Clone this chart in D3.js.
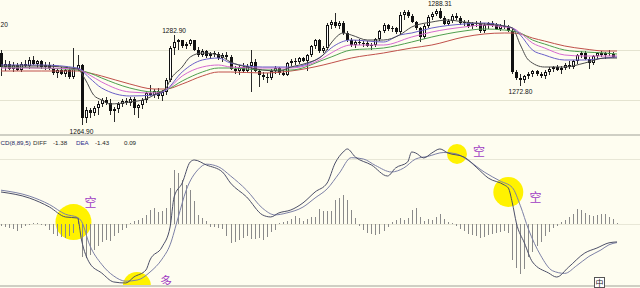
<!DOCTYPE html>
<html>
<head>
<meta charset="utf-8">
<script src="https://cdn.jsdelivr.net/npm/d3@7/dist/d3.min.js"></script>
<style>
  html, body { margin: 0; padding: 0; background: #fefdf0; overflow: hidden; }
  svg { display: block; }
</style>
</head>
<body>
<svg id="chart" width="640" height="288"></svg>
<script>
// one row per bar: [open, high, low, close]
const candles = [
  [1279.4, 1280.0, 1274.8, 1276.6], [1276.6, 1277.9, 1275.8, 1277.3], [1277.3, 1277.8, 1275.9, 1276.2],
  [1276.2, 1277.5, 1275.6, 1277.0], [1277.0, 1277.4, 1275.7, 1276.0], [1276.0, 1277.6, 1275.5, 1277.2],
  [1277.2, 1278.0, 1276.4, 1276.8], [1276.8, 1278.6, 1276.3, 1277.9], [1277.9, 1278.7, 1277.0, 1277.3],
  [1277.3, 1278.1, 1276.5, 1277.7], [1277.7, 1278.0, 1276.2, 1276.6], [1276.6, 1277.6, 1276.0, 1277.1],
  [1277.1, 1277.5, 1276.1, 1276.5], [1276.5, 1277.2, 1275.0, 1275.4], [1275.4, 1276.3, 1274.4, 1275.9],
  [1275.9, 1276.6, 1274.9, 1275.2], [1275.2, 1276.3, 1274.6, 1276.0], [1276.0, 1276.5, 1274.2, 1274.6],
  [1274.6, 1280.4, 1274.3, 1276.3], [1276.3, 1279.0, 1275.8, 1277.0], [1277.0, 1277.3, 1264.9, 1266.4],
  [1266.4, 1268.6, 1265.4, 1268.0], [1268.0, 1268.5, 1266.5, 1267.4], [1267.4, 1268.8, 1266.8, 1268.4],
  [1268.4, 1269.8, 1267.0, 1269.2], [1269.2, 1270.4, 1268.6, 1270.0], [1270.0, 1270.6, 1269.0, 1269.5],
  [1269.5, 1270.2, 1267.0, 1267.8], [1267.8, 1268.6, 1265.6, 1268.2], [1268.2, 1269.6, 1267.5, 1269.3],
  [1269.3, 1270.3, 1268.6, 1269.8], [1269.8, 1270.4, 1269.0, 1269.5], [1269.5, 1270.6, 1268.8, 1270.3],
  [1270.3, 1270.6, 1267.0, 1268.4], [1268.4, 1269.3, 1266.4, 1268.9], [1268.9, 1270.4, 1268.2, 1270.0],
  [1270.0, 1271.8, 1269.5, 1271.4], [1271.4, 1273.0, 1270.8, 1271.0], [1271.0, 1272.2, 1270.4, 1271.8],
  [1271.8, 1272.4, 1270.3, 1270.8], [1270.8, 1272.0, 1269.8, 1271.6], [1271.6, 1274.4, 1271.0, 1274.0],
  [1274.0, 1280.8, 1273.6, 1280.4], [1280.4, 1282.9, 1279.0, 1281.6], [1281.6, 1282.2, 1280.0, 1281.9],
  [1281.9, 1282.0, 1280.4, 1280.7], [1280.7, 1281.6, 1280.2, 1281.2], [1281.2, 1282.3, 1280.8, 1281.9],
  [1281.9, 1282.1, 1279.8, 1280.1], [1280.1, 1280.6, 1278.6, 1279.0], [1279.0, 1280.2, 1278.6, 1279.8],
  [1279.8, 1280.0, 1278.4, 1278.8], [1278.8, 1279.6, 1278.2, 1279.2], [1279.2, 1279.8, 1278.6, 1279.4],
  [1279.2, 1279.6, 1278.0, 1278.4], [1278.4, 1279.4, 1277.6, 1279.0], [1279.0, 1279.5, 1278.2, 1278.6],
  [1278.6, 1279.0, 1276.0, 1276.2], [1276.2, 1276.8, 1275.2, 1275.8], [1275.8, 1277.0, 1275.0, 1276.6],
  [1276.6, 1277.4, 1275.4, 1275.8], [1275.8, 1277.2, 1275.4, 1276.8], [1276.8, 1280.0, 1271.6, 1277.6],
  [1277.6, 1278.2, 1275.6, 1275.8], [1275.8, 1276.2, 1272.6, 1275.0], [1275.0, 1275.6, 1274.0, 1274.6],
  [1274.6, 1275.4, 1273.4, 1274.4], [1274.4, 1276.2, 1274.0, 1275.8], [1275.8, 1276.8, 1275.2, 1276.4],
  [1276.4, 1276.6, 1275.0, 1275.4], [1275.4, 1276.0, 1274.8, 1275.0], [1275.0, 1277.6, 1274.8, 1277.4],
  [1277.4, 1278.2, 1276.8, 1277.8], [1277.8, 1278.4, 1277.0, 1277.6], [1277.6, 1278.6, 1277.2, 1278.4],
  [1278.4, 1278.6, 1277.6, 1277.8], [1277.8, 1279.2, 1275.8, 1279.0], [1279.0, 1281.0, 1278.6, 1280.8],
  [1280.8, 1282.2, 1280.2, 1282.0], [1282.0, 1282.2, 1279.4, 1279.8], [1279.8, 1280.8, 1279.4, 1280.4],
  [1280.4, 1285.4, 1280.0, 1285.0], [1285.0, 1286.0, 1284.2, 1285.6], [1285.6, 1287.4, 1284.4, 1284.8],
  [1284.8, 1285.8, 1284.2, 1285.4], [1285.4, 1285.8, 1283.0, 1283.4], [1283.4, 1283.8, 1281.6, 1282.0],
  [1282.0, 1282.4, 1280.6, 1281.0], [1281.0, 1282.0, 1280.4, 1281.6], [1281.6, 1282.2, 1281.0, 1281.4],
  [1281.4, 1281.8, 1280.6, 1281.2], [1281.4, 1281.8, 1280.6, 1280.8], [1280.8, 1281.4, 1280.0, 1281.0],
  [1281.0, 1282.4, 1280.6, 1282.2], [1282.2, 1284.0, 1281.8, 1283.8], [1283.8, 1285.4, 1283.4, 1285.0],
  [1285.0, 1285.2, 1283.8, 1284.2], [1284.2, 1284.8, 1283.6, 1284.4], [1284.4, 1284.6, 1283.2, 1283.6],
  [1283.6, 1287.6, 1283.2, 1287.0], [1287.0, 1288.0, 1286.0, 1287.6], [1287.6, 1288.1, 1286.4, 1286.8],
  [1286.8, 1287.2, 1285.4, 1285.6], [1285.6, 1285.8, 1284.0, 1284.4], [1284.4, 1284.6, 1281.6, 1282.6],
  [1282.6, 1285.2, 1282.2, 1284.8], [1284.8, 1287.0, 1284.4, 1286.6], [1286.6, 1287.6, 1286.0, 1287.2],
  [1287.2, 1288.2, 1286.8, 1287.8], [1287.8, 1288.31, 1286.2, 1286.4], [1286.4, 1286.8, 1285.0, 1285.2],
  [1285.2, 1286.2, 1284.8, 1285.8], [1285.8, 1287.2, 1285.4, 1286.8], [1286.8, 1287.4, 1286.0, 1286.4],
  [1286.4, 1286.8, 1285.0, 1285.4], [1285.4, 1286.0, 1284.8, 1285.6], [1285.6, 1286.0, 1284.4, 1284.8],
  [1284.8, 1285.6, 1284.2, 1285.2], [1285.2, 1285.8, 1284.6, 1285.4], [1285.2, 1285.8, 1283.4, 1283.8],
  [1283.8, 1285.4, 1283.4, 1285.0], [1285.0, 1285.6, 1284.2, 1285.4], [1285.4, 1285.8, 1284.6, 1285.0],
  [1285.0, 1285.4, 1284.0, 1284.2], [1284.2, 1285.2, 1283.8, 1284.8], [1284.8, 1286.0, 1284.2, 1284.6],
  [1284.6, 1285.0, 1283.6, 1283.8], [1283.8, 1284.2, 1275.2, 1275.6], [1275.6, 1276.0, 1274.0, 1274.4],
  [1274.4, 1275.2, 1272.8, 1274.0], [1274.0, 1275.0, 1273.4, 1274.8], [1274.8, 1275.6, 1274.2, 1275.2],
  [1275.2, 1276.0, 1274.6, 1275.8], [1275.8, 1276.0, 1274.8, 1275.2], [1275.2, 1275.6, 1274.4, 1274.8],
  [1274.8, 1276.0, 1274.2, 1275.6], [1275.6, 1276.6, 1275.0, 1276.2], [1276.2, 1276.8, 1275.6, 1276.6],
  [1276.6, 1277.0, 1275.8, 1276.0], [1276.0, 1276.8, 1275.2, 1276.4], [1276.4, 1277.4, 1276.0, 1277.0],
  [1277.0, 1277.8, 1276.2, 1276.6], [1276.6, 1278.0, 1276.2, 1277.8], [1277.8, 1279.2, 1277.2, 1279.0],
  [1279.0, 1279.8, 1278.4, 1279.4], [1279.4, 1279.8, 1278.0, 1278.2], [1278.2, 1278.6, 1276.2, 1277.4],
  [1277.4, 1279.0, 1277.0, 1278.8], [1278.8, 1279.6, 1278.2, 1279.4], [1279.4, 1279.8, 1278.6, 1279.0],
  [1279.0, 1279.6, 1278.2, 1279.4], [1279.4, 1280.0, 1278.8, 1279.2], [1279.2, 1279.6, 1278.4, 1278.6]
];

// moving averages: [bar index, price]
const maDark = [[0,1276.8],[10,1276.8],[19,1276.2],[21,1274.0],[23,1271.0],[25,1270.0],[27,1269.2],[32,1269.6],
  [36,1270.2],[38,1271.0],[41,1272.4],[42,1274.0],[45,1276.6],[47,1278.6],[50,1279.4],[54,1279.0],[57,1277.6],
  [61,1276.6],[65,1276.0],[69,1275.8],[72,1276.6],[76,1277.4],[80,1279.0],[82,1281.4],[85,1283.4],[87,1283.0],
  [91,1282.0],[95,1282.0],[99,1283.0],[102,1284.6],[107,1285.6],[111,1286.0],[115,1285.6],[120,1285.2],
  [125,1284.8],[127,1284.4],[129,1281.0],[131,1278.0],[135,1276.6],[140,1276.6],[145,1277.4],[150,1278.4],[153,1278.4]];
const maBlue = [[0,1277.0],[10,1277.0],[19,1276.4],[22,1274.4],[25,1272.4],[32,1270.8],[38,1271.0],[41,1272.0],
  [45,1275.6],[50,1278.0],[54,1278.4],[57,1277.4],[65,1276.6],[72,1276.6],[80,1279.0],[82,1280.4],[87,1282.0],
  [95,1281.6],[99,1283.0],[102,1283.4],[107,1284.4],[115,1285.2],[120,1285.4],[125,1284.8],[127,1284.4],
  [129,1283.0],[132,1280.0],[135,1279.0],[140,1278.0],[145,1278.0],[150,1278.4],[153,1278.6]];
const maPink = [[0,1276.4],[10,1276.4],[19,1276.2],[22,1275.0],[25,1273.6],[32,1271.6],[38,1271.4],[41,1272.0],
  [45,1274.8],[50,1276.6],[54,1277.0],[57,1276.6],[65,1276.4],[72,1276.4],[80,1278.4],[82,1279.4],[87,1281.0],
  [95,1281.0],[102,1282.6],[107,1283.6],[115,1284.6],[120,1285.0],[125,1284.6],[127,1284.4],[129,1283.4],
  [132,1281.4],[135,1280.4],[140,1279.0],[145,1278.8],[150,1278.8],[153,1278.8]];
const maGreen = [[0,1276.6],[10,1276.4],[19,1276.0],[22,1275.4],[25,1274.4],[32,1272.4],[38,1271.6],[41,1272.0],
  [45,1273.8],[50,1275.6],[54,1276.4],[57,1276.4],[65,1276.0],[72,1276.0],[80,1278.0],[82,1278.6],[87,1280.0],
  [95,1280.4],[102,1281.6],[107,1282.6],[115,1283.8],[120,1284.2],[125,1284.0],[127,1283.8],[129,1283.4],
  [132,1282.0],[135,1281.2],[140,1280.0],[145,1279.6],[150,1279.4],[153,1279.2]];
const maRed = [[0,1275.8],[10,1275.8],[19,1275.8],[22,1275.4],[25,1274.8],[32,1273.2],[38,1272.2],[41,1272.2],
  [45,1273.2],[50,1274.8],[54,1275.6],[57,1275.6],[65,1275.4],[72,1275.8],[80,1277.0],[82,1277.4],[87,1278.4],
  [95,1279.4],[102,1280.4],[107,1281.0],[115,1282.6],[120,1283.2],[125,1283.4],[127,1283.4],[129,1283.2],
  [132,1282.4],[135,1281.8],[140,1280.8],[145,1280.2],[150,1279.8],[153,1279.8]];

const priceGrid = [1270, 1280];
// high / low notes: [bar index, price, "high" | "low", text shown]
// (the first one belongs to a bar left of the window, only its tail "20" is visible)
const priceNotes = [[0.8, 1284.2, "high", "20"], [20, 1264.9, "low", "1264.90"], [43, 1282.9, "high", "1282.90"],
  [109, 1288.31, "high", "1288.31"], [129, 1272.8, "low", "1272.80"]];

// MACD(8,89,5): [bar index, value]
const diffLine = [[0,2.46],[7,2.0],[12,1.31],[16,0.54],[19,0.46],[20,-1.23],[22,-3.0],[25,-3.77],[28,-4.46],
  [31,-4.54],[33,-4.08],[36,-3.54],[37,-2.77],[40,-1.77],[42,-0.23],[43,2.08],[45,3.15],[47,4.77],[48,4.92],
  [51,4.54],[55,4.0],[57,3.15],[61,2.08],[65,0.69],[67,0.54],[69,0.85],[72,1.08],[75,1.62],[78,2.46],[81,3.15],
  [83,4.69],[85,5.54],[86,5.77],[88,5.15],[92,4.54],[96,3.69],[98,4.31],[101,4.77],[102,5.54],[103,5.46],
  [105,5.08],[107,5.46],[109,5.77],[111,5.46],[115,5.15],[118,4.38],[121,3.54],[125,3.0],[126,2.77],[127,1.62],
  [128,0.08],[130,-1.46],[132,-2.92],[136,-3.77],[138,-4.08],[141,-3.31],[145,-2.23],[148,-1.85],[151,-1.45],[153,-1.38]];
const deaLine = [[0,2.6],[7,2.15],[12,1.5],[16,0.75],[19,0.5],[20,0.2],[22,-1.6],[25,-3.1],[28,-4.0],[31,-4.4],
  [34,-4.3],[37,-3.7],[40,-2.7],[42,-1.6],[44,0.5],[46,2.6],[49,4.2],[51,4.6],[54,4.4],[57,3.7],[61,2.6],[65,1.2],
  [68,0.7],[71,0.85],[75,1.3],[78,2.0],[81,2.7],[84,3.9],[87,5.1],[90,5.0],[93,4.5],[97,4.0],[100,4.3],[103,5.0],
  [106,5.2],[110,5.5],[113,5.4],[116,4.9],[120,4.0],[124,3.3],[127,2.8],[129,1.4],[131,-0.4],[134,-2.4],[137,-3.6],
  [140,-3.8],[143,-3.2],[146,-2.5],[149,-2.0],[151,-1.6],[153,-1.43]];
const macdBars = [
  -0.15,-0.23,-0.31,-0.38,-0.54,-0.31,-0.15,-0.08,0.08,0.04,-0.08,-0.15,-0.46,-0.77,-0.92,-1.0,-1.08,-0.92,-0.69,0.46,
  -2.54,-2.62,-2.38,-2.0,-1.69,-1.38,-1.23,-1.31,-0.92,-0.69,-0.46,-0.31,0.08,0.23,0.31,0.46,0.69,1.08,1.23,0.92,
  1.0,1.23,2.77,4.15,3.92,3.38,3.0,2.62,1.77,0.69,0.46,0.23,-0.23,-0.23,-0.31,-0.38,-0.92,-1.46,-1.38,-1.23,
  -1.08,-0.92,-1.15,-1.15,-1.08,-1.23,-1.0,-0.62,-0.46,0.08,0.15,0.23,0.38,0.62,0.46,0.23,0.38,0.54,0.54,1.15,
  1.0,1.0,1.0,1.85,2.0,2.23,1.85,1.08,0.46,-0.15,-0.46,-0.69,-0.77,-0.85,-0.77,-0.54,-0.23,0.15,0.31,0.46,
  0.31,0.46,1.08,1.23,0.54,0.23,0.38,0.31,0.54,0.77,0.38,0.15,0.08,-0.15,-0.38,-0.54,-0.77,-0.85,-0.92,-1.08,
  -1.0,-0.85,-0.77,-0.69,-0.62,-0.54,-0.69,-2.77,-3.38,-3.85,-3.46,-2.54,-2.15,-1.69,-1.38,-0.92,-0.62,-0.31,-0.15,0.15,
  0.31,0.54,0.77,1.15,1.08,0.85,0.69,0.62,0.69,0.77,0.77,0.54,0.38,0.09
];
const macdGrid = [0, 5];
// the window cuts the "MA" off the indicator name
const macdLegend = ["CD(8,89,5)", "DIFF", "-1.38", "DEA", "-1.43", "0.09"];

// hand-drawn signal marks: [bar index, value]
const rings = [[18, 0.15], [33.75, -4.77], [113.25, 5.38], [126, 2.46]];
const tags = [[22.25, 1.69, "空"], [41, -4.46, "多"], [118.75, 5.54, "空"], [132.75, 2.0, "空"]];

// ---- layout & styles ----
const W = 640, H = 288;
const bg = "#fefdf0";
const maColors = ["#4a4a4a", "#6a5fc8", "#d66ad0", "#4f9f4f", "#c0504a"];
const ringR = [18, 14, 10, 15];
const legendX = [0.5, 33, 53, 76, 95, 124];
const legendFill = ["#23235e", "#333", "#222", "#2c2c8c", "#222", "#222"];

const svg = d3.select("#chart");
svg.append("rect").attr("width", W).attr("height", H).attr("fill", bg);

const defs = svg.append("defs");
defs.append("clipPath").attr("id", "clipTop")
  .append("rect").attr("x", 0).attr("y", 0).attr("width", W).attr("height", 134);
defs.append("clipPath").attr("id", "clipBot")
  .append("rect").attr("x", 0).attr("y", 137).attr("width", W).attr("height", 148);
defs.append("filter").attr("id", "soft")
  .append("feGaussianBlur").attr("stdDeviation", 0.6);

const x = d3.scaleLinear().domain([0, candles.length - 1]).range([1, 613]);
const yP = d3.scaleLinear().domain([1263, 1290]).range([135, 0]);
const yM = d3.scaleLinear().domain([-4.77, 6.69]).range([286, 137]);
const snap = v => Math.round(v) + 0.5;

// ---- price panel ----
const gTop = svg.append("g").attr("clip-path", "url(#clipTop)");

const gridTop = gTop.append("g")
  .call(d3.axisLeft(yP).tickValues(priceGrid).tickSize(-W).tickFormat(""));
gridTop.select(".domain").remove();
gridTop.selectAll("line").attr("stroke", "#e4e3d0");

const bars = candles.map((d, i) => ({ i: i, o: d[0], h: d[1], l: d[2], c: d[3] }));
const k = gTop.append("g").attr("shape-rendering", "crispEdges")
  .selectAll("g").data(bars).join("g");

k.append("line")
  .attr("x1", d => snap(x(d.i))).attr("x2", d => snap(x(d.i)))
  .attr("y1", d => Math.round(yP(d.h))).attr("y2", d => Math.round(yP(d.l)))
  .attr("stroke", "#2a2a2a");

function bodyTop(d) { return Math.round(yP(Math.max(d.o, d.c))); }
function bodyH(d) { return Math.max(1, Math.round(yP(Math.min(d.o, d.c))) - bodyTop(d)); }

k.append("rect")
  .attr("x", d => Math.round(x(d.i)) - 1)
  .attr("y", bodyTop)
  .attr("width", 3)
  .attr("height", bodyH)
  .attr("fill", "#111");

// hollow (rising) bodies
k.filter(d => d.c > d.o && bodyH(d) > 2).append("rect")
  .attr("x", d => Math.round(x(d.i)))
  .attr("y", d => bodyTop(d) + 1)
  .attr("width", 1)
  .attr("height", d => bodyH(d) - 2)
  .attr("fill", "#fff");

const maLine = d3.line().x(d => x(d[0])).y(d => yP(d[1])).curve(d3.curveMonotoneX);
[maRed, maGreen, maPink, maBlue, maDark].forEach(function(ma, n) {
  gTop.append("path").datum(ma)
    .attr("d", maLine)
    .attr("fill", "none")
    .attr("stroke", maColors[4 - n])
    .attr("stroke-width", 1);
});

svg.append("g").selectAll("text").data(priceNotes).join("text")
  .attr("x", d => x(d[0]))
  .attr("y", d => d[2] === "high" ? yP(d[1]) - 2.5 : yP(d[1]) + 8)
  .attr("text-anchor", "middle")
  .attr("font-family", "'Liberation Sans', Arial, sans-serif")
  .attr("font-size", 6.6)
  .attr("fill", "#111")
  .text(d => d[3]);

// panel borders
[135, 286].forEach(function(yy) {
  svg.append("line").attr("x1", 0).attr("x2", W).attr("y1", yy).attr("y2", yy)
    .attr("stroke", "#cfcfc4").attr("stroke-width", 2);
});

// ---- MACD panel ----
const gBot = svg.append("g").attr("clip-path", "url(#clipBot)");

const gridBot = gBot.append("g")
  .call(d3.axisLeft(yM).tickValues(macdGrid).tickSize(-W).tickFormat(""));
gridBot.select(".domain").remove();
gridBot.selectAll("line").attr("stroke", "#e8e7d6");

gBot.append("g").attr("filter", "url(#soft)")
  .selectAll("circle").data(rings).join("circle")
  .attr("cx", d => x(d[0]))
  .attr("cy", d => yM(d[1]))
  .attr("r", (d, i) => ringR[i])
  .attr("fill", "#fff200");

gBot.append("g").attr("shape-rendering", "crispEdges")
  .selectAll("line").data(macdBars).join("line")
  .attr("x1", (d, i) => snap(x(i))).attr("x2", (d, i) => snap(x(i)))
  .attr("y1", Math.round(yM(0)))
  .attr("y2", d => Math.round(yM(d)))
  .attr("stroke", "#8a8a8a");

const macdLine = d3.line().x(d => x(d[0])).y(d => yM(d[1])).curve(d3.curveMonotoneX);
gBot.append("path").datum(deaLine).attr("d", macdLine)
  .attr("fill", "none").attr("stroke", "#7c80a6").attr("stroke-width", 1);
gBot.append("path").datum(diffLine).attr("d", macdLine)
  .attr("fill", "none").attr("stroke", "#4c4f68").attr("stroke-width", 1);

gBot.append("g").selectAll("text").data(tags).join("text")
  .attr("x", d => x(d[0]))
  .attr("y", d => yM(d[1]) + 4.5)
  .attr("text-anchor", "middle")
  .attr("font-family", "'Noto Sans CJK SC', sans-serif")
  .attr("font-size", 12)
  .attr("fill", "#a03cc4")
  .text(d => d[2]);

svg.append("g").selectAll("text").data(macdLegend).join("text")
  .attr("x", (d, i) => legendX[i])
  .attr("y", 145)
  .attr("font-family", "'Liberation Sans', Arial, sans-serif")
  .attr("font-size", 6.2)
  .attr("fill", (d, i) => legendFill[i])
  .text(d => d);

// small toolbar glyph at the bottom right
const tool = svg.append("g").attr("transform", "translate(594,277)");
tool.append("rect").attr("x", 0.5).attr("y", 0.5).attr("width", 10).attr("height", 10)
  .attr("fill", "#fff").attr("stroke", "#555");
tool.append("text").attr("x", 5.5).attr("y", 8.5).attr("text-anchor", "middle")
  .attr("font-family", "'Noto Sans CJK SC', sans-serif").attr("font-size", 8).attr("fill", "#222")
  .text("中");
</script>
</body>
</html>
